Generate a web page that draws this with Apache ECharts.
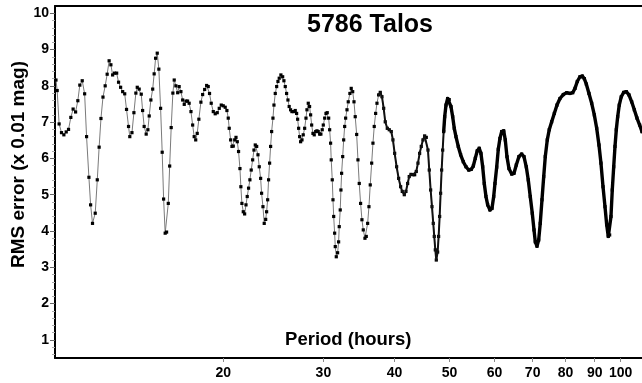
<!DOCTYPE html>
<html><head><meta charset="utf-8">
<script src="https://cdn.jsdelivr.net/npm/echarts@6/dist/echarts.min.js"></script>
<style>html,body{margin:0;padding:0;background:#fff}#c{width:642px;height:383px}</style>
</head><body><div id="c"></div>
<script>
const titleText = '5786 Talos';
const xName = 'Period (hours)';
const yName = 'RMS error (x 0.01 mag)';
const xTicks = [20, 30, 40, 50, 60, 70, 80, 90, 100];
const yTicks = [1, 2, 3, 4, 5, 6, 7, 8, 9, 10];

const periods = [
10.16,10.21,10.29,10.39,10.49,10.59,10.69,10.79,10.89,11.00,11.10,11.19,11.30,11.41,11.50,11.61,11.69,11.78,11.91,12.01,
12.10,12.19,12.29,12.40,12.50,12.60,12.69,12.78,12.88,12.99,13.09,13.20,13.31,13.42,13.52,13.63,13.70,13.82,13.93,14.04,
14.12,14.23,14.35,14.43,14.52,14.64,14.74,14.82,14.92,15.03,15.12,15.21,15.31,15.41,15.52,15.62,15.71,15.81,15.90,16.01,
16.10,16.20,16.31,16.40,16.51,16.63,16.73,16.85,16.97,17.08,17.20,17.31,17.42,17.55,17.67,17.78,17.89,18.00,18.12,18.27,
18.40,18.55,18.70,18.82,18.92,19.05,19.21,19.36,19.52,19.68,19.84,20.00,20.16,20.30,20.41,20.49,20.61,20.72,20.83,20.95,
21.06,21.17,21.28,21.40,21.48,21.57,21.69,21.81,21.93,22.04,22.16,22.28,22.40,22.53,22.65,22.77,22.90,23.02,23.14,23.27,
23.36,23.49,23.61,23.75,23.84,23.94,24.03,24.13,24.23,24.33,24.46,24.56,24.69,24.83,24.96,25.09,25.26,25.44,25.57,25.71,
25.85,25.99,26.12,26.27,26.41,26.60,26.77,26.92,27.03,27.14,27.25,27.36,27.51,27.65,27.81,27.96,28.07,28.22,28.37,28.49,
28.61,28.76,28.91,29.08,29.23,29.38,29.55,29.70,29.86,29.99,30.16,30.32,30.47,30.65,30.77,30.89,30.97,31.10,31.19,31.28,
31.40,31.48,31.61,31.78,31.91,31.99,32.12,32.21,32.30,32.44,32.57,32.70,32.83,33.01,33.18,33.40,33.58,33.78,33.96,34.13,
34.33,34.51,34.69,34.88,35.07,35.26,35.50,35.69,35.89,36.08,36.27,36.48,36.67,36.86,37.07,37.27,37.52,37.77,38.03,38.30,
38.54,38.86,39.17,39.49,39.76,40.04,40.36,40.69,41.02,41.29,41.63,41.91,42.20,42.47,42.77,43.12,43.42,43.70,44.00,44.30,
44.59,44.90,45.21,45.51,45.82,46.06,46.32,46.57,46.81,47.00,47.20,47.39,47.65,47.84,48.04,48.23,48.43,48.63,48.83,49.03,
49.29,49.62,49.94,50.29,50.64,50.97,51.32,51.80,52.30,52.86,53.44,54.03,54.60,55.05,55.49,55.94,56.39,56.78,57.18,57.55,
57.95,58.35,58.89,59.37,59.79,60.10,60.52,60.91,61.32,61.75,62.26,62.66,63.09,63.60,64.30,64.91,65.52,66.23,66.96,67.59,
68.22,68.77,69.33,69.90,70.39,70.76,71.24,71.73,72.19,72.70,73.21,73.68,74.28,74.87,75.61,76.42,77.26,78.19,79.25,80.35,
81.42,82.33,83.10,83.87,84.78,85.59,86.29,86.99,87.94,88.91,89.86,90.73,91.57,92.31,93.08,93.83,94.48,95.09,95.62,96.13,
96.64,97.20,97.71,98.23,98.78,99.41,100.23,101.22,102.29,103.40,104.54,105.66,106.81,107.97,108.99
];

const rms = [
8.16,7.87,6.95,6.71,6.65,6.73,6.80,7.13,7.36,7.28,7.59,8.02,8.14,7.78,6.60,5.48,4.72,4.21,4.49,5.41,
6.31,7.10,7.69,8.00,8.32,8.69,8.58,8.30,8.35,8.35,8.10,7.96,7.84,7.78,7.35,6.88,6.60,6.71,7.26,7.80,
7.96,7.91,7.77,7.32,6.88,6.67,6.79,7.17,7.61,7.91,8.33,8.76,8.90,8.46,7.38,6.17,4.88,3.94,3.97,4.76,
5.79,6.85,7.80,8.16,8.00,7.81,7.98,7.84,7.61,7.49,7.58,7.58,7.52,7.29,6.92,6.60,6.51,6.69,7.08,7.55,
7.76,7.90,8.01,7.98,7.79,7.52,7.29,7.23,7.26,7.38,7.47,7.45,7.41,7.32,7.11,6.83,6.51,6.33,6.34,6.51,
6.58,6.46,6.19,5.72,5.22,4.76,4.53,4.47,4.72,4.95,5.18,5.41,5.68,5.96,6.23,6.37,6.33,6.10,5.77,5.45,
5.04,4.67,4.21,4.32,4.53,4.86,5.41,5.87,6.33,6.74,7.11,7.47,7.79,7.98,8.12,8.21,8.30,8.25,8.14,7.98,
7.79,7.61,7.43,7.34,7.29,7.29,7.32,7.24,7.08,6.83,6.60,6.46,6.51,6.65,6.83,7.11,7.34,7.52,7.43,7.20,
6.92,6.69,6.65,6.74,6.76,6.74,6.67,6.67,6.79,6.92,7.11,7.24,7.26,7.11,6.79,6.42,5.96,5.41,4.86,4.40,
3.94,3.57,3.29,3.40,3.70,4.12,4.58,5.13,5.59,6.05,6.51,6.88,7.11,7.34,7.56,7.79,7.93,7.84,7.56,7.15,
6.66,5.96,5.31,4.76,4.31,4.03,3.80,3.85,4.21,4.67,5.27,5.87,6.42,6.88,7.24,7.52,7.75,7.82,7.70,7.38,
7.01,6.83,6.79,6.74,6.51,6.14,5.77,5.45,5.22,5.09,5.00,5.09,5.31,5.50,5.56,5.55,5.55,5.64,5.87,6.14,
6.33,6.51,6.62,6.58,6.23,5.68,5.13,4.67,4.21,3.85,3.48,3.20,3.42,3.85,4.40,5.04,5.68,6.23,6.74,7.15,
7.47,7.65,7.62,7.43,7.15,6.83,6.60,6.33,6.10,5.91,5.77,5.68,5.70,5.79,6.00,6.21,6.28,6.14,5.77,5.31,
4.95,4.72,4.58,4.62,4.95,5.31,5.76,6.25,6.55,6.74,6.76,6.51,6.05,5.72,5.57,5.59,5.82,6.05,6.12,6.05,
5.77,5.41,4.95,4.49,4.03,3.70,3.58,3.75,4.21,4.86,5.50,6.05,6.51,6.79,7.01,7.24,7.47,7.65,7.76,7.81,
7.79,7.81,7.93,8.12,8.25,8.27,8.20,8.05,7.79,7.52,7.20,6.83,6.37,5.87,5.22,4.67,4.17,3.85,3.89,4.40,
5.13,5.77,6.33,6.79,7.15,7.47,7.70,7.82,7.84,7.75,7.56,7.34,7.11,6.92,6.74
];

const FONT = '"Liberation Sans", Arial, Helvetica, sans-serif';
const mediumFrom = 37.5;
const denseFrom = 48.8;

const points = periods.map((p, i) => [p, rms[i]]);
const mediumPoints = points.filter(d => d[0] >= mediumFrom && d[0] <= denseFrom + 0.3);
const densePoints = points.filter(d => d[0] >= denseFrom);

const yMinor = [];
[0].concat(yTicks).forEach(t => {
  [0.2, 0.4, 0.6, 0.8].forEach(f => {
    const v = Math.round((t + f) * 10) / 10;
    if (v > 0.5 && v < 10.2) yMinor.push(v);
  });
});

const chart = echarts.init(document.getElementById('c'), null, { renderer: 'canvas' });
chart.setOption({
  animation: false,
  backgroundColor: '#ffffff',
  title: {
    text: titleText, left: 307, top: 13, padding: 0,
    textStyle: { fontFamily: FONT, fontWeight: 'bold', fontSize: 25, color: '#000' }
  },
  grid: { left: 55, right: 0, top: 6, bottom: 25, containLabel: false },
  xAxis: [
    {
      type: 'log', logBase: 10, min: 10.12, max: 109,
      axisLine: { show: true, onZero: false, lineStyle: { color: '#000', width: 2 } },
      axisTick: { show: true, customValues: xTicks, length: 4, lineStyle: { color: '#888', width: 1 } },
      axisLabel: { show: true, customValues: xTicks, margin: 8, fontFamily: FONT, fontWeight: 'bold', fontSize: 14, color: '#000' },
      splitLine: { show: false }, minorTick: { show: false }, minorSplitLine: { show: false }
    },
    {
      type: 'value', position: 'top', min: 0, max: 1,
      axisLine: { show: true, onZero: false, lineStyle: { color: '#000', width: 2 } },
      axisTick: { show: false }, axisLabel: { show: false }, splitLine: { show: false }
    }
  ],
  yAxis: [
    {
      type: 'value', min: 0.5, max: 10.2, position: 'left',
      axisLine: { show: true, onZero: false, lineStyle: { color: '#000', width: 2 } },
      axisTick: { show: true, customValues: yTicks, length: 5, lineStyle: { color: '#666', width: 1 } },
      axisLabel: { show: true, customValues: yTicks, margin: 6, fontFamily: FONT, fontWeight: 'bold', fontSize: 14, color: '#000' },
      splitLine: { show: false }
    },
    {
      type: 'value', min: 0.5, max: 10.2, position: 'left',
      axisLine: { show: false },
      axisTick: { show: true, customValues: yMinor, length: 3, lineStyle: { color: '#aaa', width: 1 } },
      axisLabel: { show: false }, splitLine: { show: false }
    }
  ],
  graphic: [
    {
      type: 'text', x: 18.5, y: 164.5, rotation: Math.PI / 2, silent: true,
      style: { text: yName, font: 'bold 19px ' + FONT, fill: '#000', align: 'center', verticalAlign: 'middle', textAlign: 'center', textVerticalAlign: 'middle' }
    },
    {
      type: 'text', x: 348.3, y: 340, silent: true,
      style: { text: xName, font: 'bold 18.5px ' + FONT, fill: '#000', align: 'center', verticalAlign: 'middle', textAlign: 'center', textVerticalAlign: 'middle' }
    }
  ],
  series: [
    {
      type: 'line', xAxisIndex: 0, yAxisIndex: 0, data: points, silent: true,
      symbol: 'rect', symbolSize: 3.2, showSymbol: true, showAllSymbol: true,
      itemStyle: { color: '#000' },
      lineStyle: { color: '#7a7a7a', width: 1 },
      z: 2
    },
    {
      type: 'line', xAxisIndex: 0, yAxisIndex: 0, data: mediumPoints, silent: true,
      showSymbol: false, symbol: 'none',
      lineStyle: { color: '#111', width: 2, join: 'round', cap: 'round' },
      z: 3
    },
    {
      type: 'line', xAxisIndex: 0, yAxisIndex: 0, data: densePoints, silent: true,
      showSymbol: false, symbol: 'none',
      lineStyle: { color: '#000', width: 3.4, join: 'round', cap: 'round' },
      z: 4
    }
  ]
});
</script>
</body></html>
